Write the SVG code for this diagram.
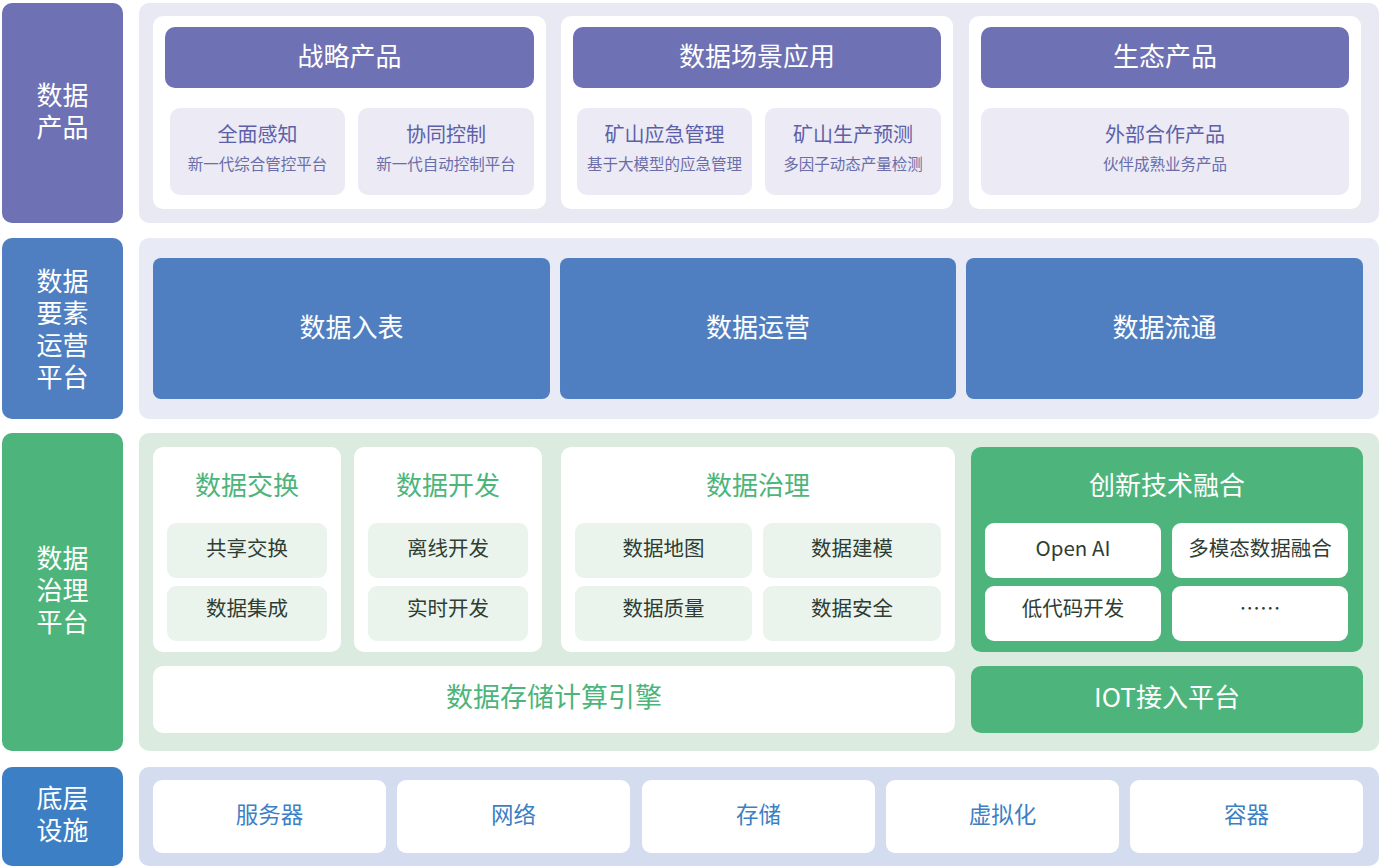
<svg xmlns="http://www.w3.org/2000/svg" width="1383" height="867" viewBox="0 0 1383 867">
<style>
text{font-family:"Noto Sans CJK SC","Noto Sans",sans-serif;text-anchor:middle;dominant-baseline:central}
.lab{fill:#fff;font-size:26px}
.p1{fill:#e9e9f4}.p2{fill:#e8ebf5}.p3{fill:#dcebe0}.p4{fill:#d4dcef}
.w{fill:#fff}
.hd{fill:#6e71b3}
.sc{fill:#ebeaf5}
.st{fill:#5d60a8;font-size:20px}
.ss{fill:#6a6da8;font-size:15.5px}
.bb{fill:#4f7fc1}
.bt{fill:#fff;font-size:26px}
.gt{fill:#4db57b;font-size:26px}
.gc{fill:#eaf4ec}
.gs{fill:#2f3d33;font-size:20.5px}
.gg{fill:#4db57b}
.it{fill:#3d7fc4;font-size:22.5px}
</style>
<g id="row1">
<rect x="2" y="3" width="121" height="220" rx="10" fill="#6e71b3"/>
<text class="lab" x="62.5" y="93">数据<tspan x="62.5" dy="32">产品</tspan></text>
<rect class="p1" x="139" y="3" width="1240" height="220" rx="10"/>
</g>
<g id="strategy">
<rect class="w" x="153" y="16" width="393" height="193" rx="10"/>
<rect class="hd" x="165" y="27" width="369" height="61" rx="10"/>
<text class="bt" x="349.5" y="54">战略产品</text>
<rect class="sc" x="170" y="108" width="175" height="87" rx="10"/>
<text class="st" x="257.5" y="133">全面感知</text>
<text class="ss" x="257.5" y="163">新一代综合管控平台</text>
<rect class="sc" x="358" y="108" width="176" height="87" rx="10"/>
<text class="st" x="446" y="133">协同控制</text>
<text class="ss" x="446" y="163">新一代自动控制平台</text>
</g>
<g id="scene">
<rect class="w" x="561" y="16" width="392" height="193" rx="10"/>
<rect class="hd" x="573" y="27" width="368" height="61" rx="10"/>
<text class="bt" x="757" y="54">数据场景应用</text>
<rect class="sc" x="577" y="108" width="175" height="87" rx="10"/>
<text class="st" x="664.5" y="133">矿山应急管理</text>
<text class="ss" x="664.5" y="163">基于大模型的应急管理</text>
<rect class="sc" x="765" y="108" width="176" height="87" rx="10"/>
<text class="st" x="853" y="133">矿山生产预测</text>
<text class="ss" x="853" y="163">多因子动态产量检测</text>
</g>
<g id="eco">
<rect class="w" x="969" y="16" width="392" height="193" rx="10"/>
<rect class="hd" x="981" y="27" width="368" height="61" rx="10"/>
<text class="bt" x="1165" y="54">生态产品</text>
<rect class="sc" x="981" y="108" width="368" height="87" rx="10"/>
<text class="st" x="1165" y="133">外部合作产品</text>
<text class="ss" x="1165" y="163">伙伴成熟业务产品</text>
</g>
<g id="row2">
<rect x="2" y="238" width="121" height="181" rx="10" fill="#4f7fc1"/>
<text class="lab" x="62.5" y="279">数据<tspan x="62.5" dy="32">要素</tspan><tspan x="62.5" dy="32">运营</tspan><tspan x="62.5" dy="32">平台</tspan></text>
<rect class="p2" x="139" y="238" width="1240" height="181" rx="10"/>
</g>
<g id="op1"><rect class="bb" x="153" y="258" width="397" height="141" rx="8"/><text class="bt" x="351.5" y="325">数据入表</text></g>
<g id="op2"><rect class="bb" x="560" y="258" width="396" height="141" rx="8"/><text class="bt" x="758" y="325">数据运营</text></g>
<g id="op3"><rect class="bb" x="966" y="258" width="397" height="141" rx="8"/><text class="bt" x="1164.5" y="325">数据流通</text></g>
<g id="row3">
<rect x="2" y="433" width="121" height="318" rx="10" fill="#4db57b"/>
<text class="lab" x="62.5" y="556">数据<tspan x="62.5" dy="32">治理</tspan><tspan x="62.5" dy="32">平台</tspan></text>
<rect class="p3" x="139" y="433" width="1240" height="318" rx="10"/>
</g>
<g id="exchange">
<rect class="w" x="153" y="447" width="188" height="205" rx="10"/>
<text class="gt" x="247" y="483">数据交换</text>
<rect class="gc" x="167" y="523" width="160" height="55" rx="9"/>
<text class="gs" x="247" y="547">共享交换</text>
<rect class="gc" x="167" y="586" width="160" height="55" rx="9"/>
<text class="gs" x="247" y="607">数据集成</text>
</g>
<g id="develop">
<rect class="w" x="354" y="447" width="188" height="205" rx="10"/>
<text class="gt" x="448" y="483">数据开发</text>
<rect class="gc" x="368" y="523" width="160" height="55" rx="9"/>
<text class="gs" x="448" y="547">离线开发</text>
<rect class="gc" x="368" y="586" width="160" height="55" rx="9"/>
<text class="gs" x="448" y="607">实时开发</text>
</g>
<g id="govern">
<rect class="w" x="561" y="447" width="394" height="205" rx="10"/>
<text class="gt" x="758" y="483">数据治理</text>
<rect class="gc" x="575" y="523" width="177" height="55" rx="9"/>
<text class="gs" x="663.5" y="547">数据地图</text>
<rect class="gc" x="763" y="523" width="178" height="55" rx="9"/>
<text class="gs" x="852" y="547">数据建模</text>
<rect class="gc" x="575" y="586" width="177" height="55" rx="9"/>
<text class="gs" x="663.5" y="607">数据质量</text>
<rect class="gc" x="763" y="586" width="178" height="55" rx="9"/>
<text class="gs" x="852" y="607">数据安全</text>
</g>
<g id="innovate">
<rect class="gg" x="971" y="447" width="392" height="205" rx="10"/>
<text class="bt" x="1167" y="483">创新技术融合</text>
<rect class="w" x="985" y="523" width="176" height="55" rx="9"/>
<text class="gs" x="1073" y="547">Open AI</text>
<rect class="w" x="1172" y="523" width="176" height="55" rx="9"/>
<text class="gs" x="1260" y="547">多模态数据融合</text>
<rect class="w" x="985" y="586" width="176" height="55" rx="9"/>
<text class="gs" x="1073" y="607">低代码开发</text>
<rect class="w" x="1172" y="586" width="176" height="55" rx="9"/>
<text class="gs" x="1260" y="607">……</text>
</g>
<g id="storage">
<rect class="w" x="153" y="666" width="802" height="67" rx="10"/>
<text class="gt" x="554" y="695" style="font-size:27px">数据存储计算引擎</text>
</g>
<g id="iot">
<rect class="gg" x="971" y="666" width="392" height="67" rx="10"/>
<text class="bt" x="1167" y="695">IOT接入平台</text>
</g>
<g id="row4">
<rect x="2" y="767" width="121" height="99" rx="10" fill="#3d7fc4"/>
<text class="lab" x="62.5" y="796">底层<tspan x="62.5" dy="32">设施</tspan></text>
<rect class="p4" x="139" y="767" width="1240" height="99" rx="10"/>
</g>
<g id="server"><rect class="w" x="153" y="780" width="233" height="73" rx="9"/><text class="it" x="269.5" y="813">服务器</text></g>
<g id="network"><rect class="w" x="397" y="780" width="233" height="73" rx="9"/><text class="it" x="513.5" y="813">网络</text></g>
<g id="store"><rect class="w" x="642" y="780" width="233" height="73" rx="9"/><text class="it" x="758.5" y="813">存储</text></g>
<g id="virtual"><rect class="w" x="886" y="780" width="233" height="73" rx="9"/><text class="it" x="1002.5" y="813">虚拟化</text></g>
<g id="container"><rect class="w" x="1130" y="780" width="233" height="73" rx="9"/><text class="it" x="1246.5" y="813">容器</text></g>
<g id="connectors"/>
</svg>
